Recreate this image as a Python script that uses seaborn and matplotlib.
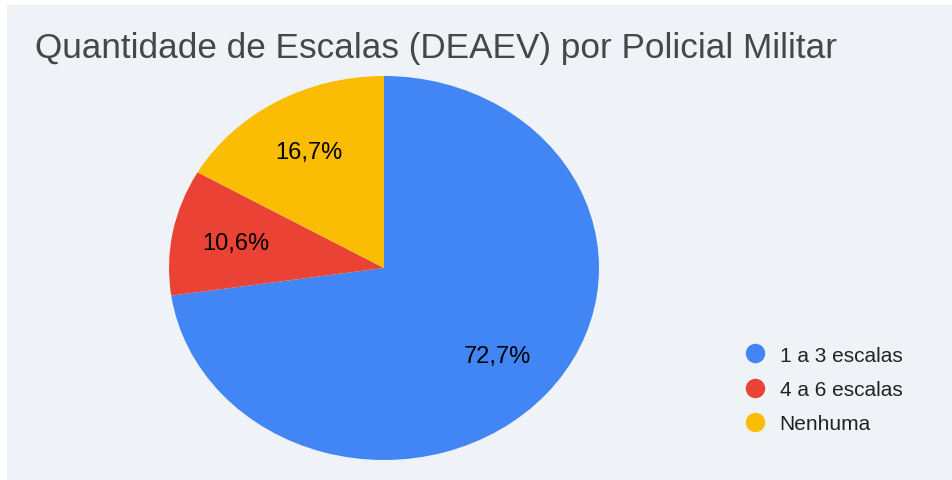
import matplotlib
matplotlib.use('Agg')
import matplotlib.pyplot as plt
from matplotlib.lines import Line2D
from matplotlib.patches import Rectangle
import seaborn as sns

# Data
categories = ['1 a 3 escalas', '4 a 6 escalas', 'Nenhuma']
percentages = [72.7, 10.6, 16.7]
colors = ['#4285f4', '#ea4335', '#fbbc04']
title = 'Quantidade de Escalas (DEAEV) por Policial Militar'

sns.set_style('white')
plt.rcParams['font.family'] = ['Liberation Sans', 'DejaVu Sans']

bg = '#eff2f7'
W, H = 952, 481
fig = plt.figure(figsize=(W / 100, H / 100), dpi=100)
fig.patch.set_facecolor('white')

# chart card background
fig.patches.append(Rectangle((7 / W, 0), 1 - 7 / W, 1 - 6 / H,
                             transform=fig.transFigure, facecolor=bg,
                             edgecolor='none', zorder=-1))

# pie drawn in an axes spanning the (slightly elliptical) pie bounds
ax = fig.add_axes([169 / W, (H - 461) / H, 430 / W, 384 / H])
ax.set_zorder(1)
ax.set_facecolor('none')
wedges, texts, autotexts = ax.pie(
    percentages,
    colors=sns.color_palette(colors),
    startangle=90,
    counterclock=False,
    autopct=lambda p: f'{p:.1f}'.replace('.', ',') + '%',
    pctdistance=0.7,
    wedgeprops=dict(linewidth=0),
    textprops=dict(fontsize=17, color='black'),
)
ax.set_aspect('auto')
ax.set_xlim(-1, 1)
ax.set_ylim(-1, 1)
ax.axis('off')

fig.text(35 / W, 1 - 58 / H, title, fontsize=25.3, color='#474747',
         ha='left', va='baseline')

handles = [Line2D([], [], marker='o', linestyle='none', markersize=14,
                  markerfacecolor=c, markeredgecolor='none') for c in colors]
fig.legend(handles, categories, loc='upper left',
           bbox_to_anchor=(715 / W, 1 - 328 / H), frameon=False,
           fontsize=15, labelspacing=0.73, handletextpad=0.2,
           labelcolor='#222222')

plt.savefig('out.png', dpi=100, facecolor='white')
plt.close()
